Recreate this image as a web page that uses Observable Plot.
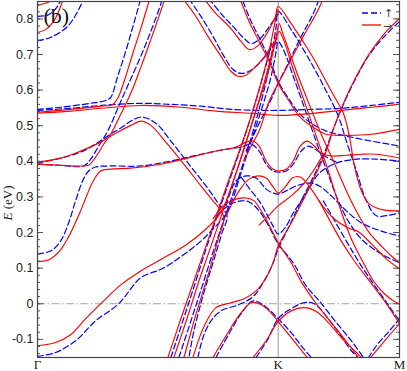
<!DOCTYPE html>
<html><head><meta charset="utf-8">
<script src="https://cdn.jsdelivr.net/npm/d3@7"></script>
<script src="https://cdn.jsdelivr.net/npm/@observablehq/plot@0.6"></script>
<style>
html,body{margin:0;padding:0;background:#fff;}
#wrap{position:relative;width:407px;height:371px;}
#wrap svg{overflow:visible;}
#over{position:absolute;left:0;top:0;pointer-events:none;}
</style></head>
<body><div id="wrap"></div>
<script>
// k-point index along the path Γ(0) → K(240) → M(361); energies in eV
const kTicks = [0, 240, 361];
const kLabels = ["Γ", "K", "M"];
const eTicks = [-0.1, 0, 0.1, 0.2, 0.3, 0.4, 0.5, 0.6, 0.7, 0.8];

// spin "→" bands (red, solid)
const r01 = [[0,.838],[10,.846],[17,.857]];
const r02 = [[0,.762],[8,.770],[16,.793],[21,.821],[26,.857]];
const r03 = [[0,.538],[33,.546],[63,.555],[75,.560],[80,.577],[87,.630],[95,.703],[103,.773],[112,.857]];
const r04 = [[0,.535],[33,.541],[63,.549],[103,.557],[143,.552],[178,.541],[213,.535],[240,.529],[263,.532],[303,.543],[333,.552],[361,.560]];
const r05 = [[0,.392],[23,.389],[43,.387],[51,.389],[58,.412],[66,.448],[73,.476],[83,.532],[93,.591],[103,.664],[113,.742],[120,.798],[127,.857]];
const r06 = [[0,.398],[23,.409],[43,.429],[63,.454],[78,.479],[93,.501],[103,.513],[113,.501],[128,.454],[146,.392],[163,.331],[175,.289],[183,.261],[186,.240],[180,.180],[170,.080],[158,-.030],[146,-.151],[144,-.170]];
const r07 = [[0,.118],[13,.126],[23,.151],[33,.199],[43,.261],[51,.317],[56,.347],[63,.373],[73,.378],[93,.381],[123,.392],[153,.412],[178,.429],[198,.440],[208,.454],[215,.457],[221,.443],[228,.401],[235,.378],[240,.373],[248,.378],[255,.401],[262,.443],[269,.457],[276,.443],[283,.423],[293,.415],[308,.417],[323,.420],[338,.420],[361,.409]];
const r08 = [[0,-.118],[18,-.109],[33,-.087],[48,-.042],[66,.008],[83,.053],[103,.092],[126,.129],[148,.165],[168,.210],[181,.249],[189,.294],[197,.359],[205,.429],[213,.499],[221,.569],[228,.630],[234,.695],[238,.743],[241,.765],[246,.737],[255,.658],[266,.569],[278,.471],[290,.373],[301,.275],[313,.182],[325,.115],[335,.064],[346,.028],[355,.008],[361,0]];
const r09 = [[130,-.151],[143,-.042],[156,.064],[168,.162],[180,.261],[191,.350],[203,.443],[213,.527],[221,.602],[228,.675],[233,.737],[237,.793],[240,.835],[253,.787],[273,.700],[293,.597],[305,.535],[311,.471],[316,.387],[323,.317],[331,.280],[346,.263],[361,.261]];
const r10 = [[136,-.151],[149,-.042],[161,.064],[173,.162],[185,.261],[196,.350],[207,.443],[217,.535],[225,.611],[233,.695],[238,.751],[241,.787],[245,.756],[251,.709],[260,.639],[271,.560],[283,.476],[296,.395],[308,.317],[319,.255],[331,.199],[343,.162],[353,.134],[361,.115]];
const r11 = [[155,-.151],[163,-.084],[170,-.042],[178,-.011],[193,.003],[206,.014],[218,.036],[228,.073],[235,.115],[240,.162],[253,.227],[266,.297],[278,.367],[288,.429],[296,.499],[306,.569],[318,.639],[331,.703],[346,.759],[361,.801]];
const r12 = [[175,.238],[185,.275],[198,.294],[208,.297],[216,.289],[225,.252],[233,.210],[240,.171],[253,.115],[263,.062],[278,0],[293,-.053],[308,-.106],[320,-.151]];
const r13 = [[188,.246],[201,.317],[211,.350],[220,.359],[228,.353],[235,.328],[240,.311],[247,.328],[254,.353],[262,.356],[273,.322],[283,.280],[296,.238],[310,.213],[320,.202],[333,.168],[348,.126],[361,.098]];
const r14 = [[221,.221],[231,.249],[240,.275],[253,.303],[266,.339],[275,.373],[285,.420]];
const r15 = [[203,.849],[211,.793],[221,.737],[231,.681],[240,.619],[251,.569],[261,.527],[273,.499],[288,.476],[308,.473],[333,.476],[361,.490]];
const r16 = [[206,.401],[213,.443],[221,.485],[231,.569],[240,.619],[253,.687],[266,.756],[278,.815],[285,.857]];
const r17 = [[145,.857],[158,.807],[170,.751],[183,.695],[193,.653],[200,.639],[207,.641],[215,.659],[225,.689],[233,.723],[239,.745]];
const r18 = [[166,.857],[178,.815],[191,.779],[203,.737],[211,.714],[219,.723],[228,.756],[235,.793],[240,.826]];
const r19 = [[175,-.151],[188,-.090],[203,-.025],[213,.003],[221,0],[231,-.020],[240,-.050],[253,-.095],[265,-.137],[269,-.151]];
const r20 = [[215,-.151],[228,-.104],[240,-.050],[253,-.020],[266,-.011],[278,-.022],[290,-.053],[303,-.095],[318,-.137],[323,-.151]];
const r21 = [[328,-.165],[338,-.132],[348,-.098],[361,-.056]];
const r22 = [[281,.289],[303,.176],[316,.120],[331,.064],[346,.008],[361,-.056]];

// spin "↑" bands (blue, dashed)
const b01 = [[0,.807],[11,.812],[19,.832],[24,.857]];
const b02 = [[0,.739],[13,.748],[30,.779],[40,.821],[46,.857]];
const b03 = [[0,.546],[23,.552],[53,.563],[68,.571],[73,.580],[80,.639],[88,.709],[96,.787],[103,.857]];
const b04 = [[0,.543],[33,.549],[63,.557],[103,.563],[133,.560],[163,.555],[193,.546],[223,.543],[240,.543],[273,.546],[303,.549],[333,.557],[361,.566]];
const b05 = [[0,.392],[23,.389],[46,.387],[53,.406],[61,.443],[70,.485],[81,.555],[91,.619],[103,.695],[113,.765],[123,.843],[124,.857]];
const b06 = [[0,.395],[43,.426],[78,.485],[103,.524],[118,.507],[133,.457],[151,.392],[168,.331],[180,.283],[189,.246],[184,.199],[175,.115],[165,.022],[156,-.076],[151,-.151]];
const b07 = [[0,.140],[13,.148],[23,.176],[31,.227],[38,.289],[45,.345],[51,.373],[58,.384],[73,.387],[103,.387],[133,.401],[163,.420],[188,.434],[203,.440],[213,.448],[221,.429],[228,.392],[235,.373],[240,.370],[248,.373],[255,.392],[263,.429],[270,.443],[278,.432],[288,.412],[298,.398]];
const b08 = [[0,-.148],[18,-.137],[38,-.104],[58,-.048],[81,0],[103,.073],[126,.101],[161,.171],[175,.210],[186,.244],[194,.289],[202,.359],[210,.429],[218,.499],[226,.569],[233,.639],[238,.709],[240,.737],[246,.709],[255,.639],[265,.560],[276,.471],[288,.378],[300,.289],[311,.227],[323,.182],[335,.154],[348,.132],[361,.115]];
const b09 = [[141,-.151],[153,-.048],[165,.056],[177,.162],[189,.261],[201,.359],[212,.457],[221,.546],[228,.625],[234,.709],[238,.779],[240,.821],[253,.770],[271,.686],[288,.597],[300,.527],[308,.457],[318,.373],[328,.289],[338,.247],[351,.249],[361,.255]];
const b10 = [[160,-.151],[165,-.095],[173,-.048],[183,-.020],[200,-.003],[215,.020],[226,.064],[235,.115],[240,.154],[251,.218],[263,.289],[275,.356],[286,.423],[295,.490],[305,.560],[318,.636],[331,.700],[346,.751],[361,.793]];
const b11 = [[178,.246],[191,.277],[203,.289],[211,.286],[221,.261],[231,.216],[240,.168],[255,.115],[268,.050],[281,.008],[298,-.053],[313,-.104],[325,-.151]];
const b12 = [[188,.275],[198,.345],[208,.359],[218,.353],[228,.322],[235,.311],[240,.308],[248,.317],[258,.331],[271,.339],[281,.331],[293,.303],[308,.261],[323,.227],[343,.204],[361,.190]];
const b13 = [[203,.356],[211,.325],[221,.289],[228,.255],[235,.218],[240,.196],[248,.218],[255,.255],[263,.289],[271,.325],[281,.367],[298,.395],[318,.406],[338,.406],[361,.401]];
const b14 = [[205,.849],[213,.793],[223,.737],[233,.675],[240,.625],[251,.574],[261,.535],[273,.507],[288,.485],[308,.471],[333,.457],[361,.443]];
const b15 = [[208,.429],[215,.471],[223,.518],[233,.574],[240,.619],[251,.681],[263,.751],[275,.815],[281,.857]];
const b16 = [[151,.857],[163,.807],[175,.751],[186,.695],[195,.658],[203,.647],[211,.653],[221,.675],[231,.709],[239,.737]];
const b17 = [[171,.857],[183,.815],[195,.779],[205,.748],[213,.731],[221,.742],[229,.770],[236,.798],[240,.815]];
const b18 = [[178,-.151],[191,-.084],[203,-.028],[215,.008],[225,-.003],[233,-.022],[240,-.042],[253,-.081],[263,-.118],[273,-.151]];
const b19 = [[218,-.151],[230,-.098],[240,-.042],[253,-.014],[266,.003],[276,0],[293,-.053],[313,-.132],[320,-.151]];
const b20 = [[325,-.174],[338,-.118],[351,-.076],[361,-.042]];
const b21 = [[285,.289],[308,.176],[321,.115],[335,.056],[349,0],[361,-.048]];
const b22 = [[133,-.151],[145,-.048],[157,.056],[169,.162],[181,.261],[193,.359],[204,.448],[214,.535],[222,.611],[229,.681],[234,.737]];

const redBands = [r01,r02,r03,r04,r05,r06,r07,r08,r09,r10,r11,r12,r13,r14,r15,r16,r17,r18,r19,r20,r21,r22];
const blueBands = [b01,b02,b03,b04,b05,b06,b07,b08,b09,b10,b11,b12,b13,b14,b15,b16,b17,b18,b19,b20,b21,b22];

const toRows = (bands, tag) => bands.flatMap((b, i) => b.map(([k, E]) => ({k, E, band: tag + i})));
const redRows = toRows(redBands, "r");
const blueRows = toRows(blueBands, "b");

const W = 407, H = 371, mL = 37, mR = 8, mT = 1, mB = 14;
const fw = W - mL - mR;
const minor = d3.range(-14, 85, 2).map(v => v / 100);

const chart = Plot.plot({
  width: W, height: H,
  marginLeft: mL, marginRight: mR, marginTop: mT, marginBottom: mB,
  style: {fontFamily: "Liberation Sans, Arial, sans-serif", fontSize: "12.5px", color: "#222", background: "white"},
  x: {domain: [0, 361], axis: null},
  y: {domain: [-0.151, 0.849], axis: null},
  marks: [
    Plot.ruleX([240], {stroke: "#9a9a9a", strokeWidth: 1}),
    Plot.ruleY([0], {stroke: "#999", strokeWidth: 0.9, strokeDasharray: "8,2.5,1.5,2.5"}),
    Plot.line(blueRows, {x: "k", y: "E", z: "band", stroke: "#0000ff", strokeWidth: 1.2, strokeDasharray: "6,3", curve: "catmull-rom", clip: true}),
    Plot.line(redRows, {x: "k", y: "E", z: "band", stroke: "#ff0000", strokeWidth: 1.15, curve: "catmull-rom", clip: true}),
    // inward ticks, left and right
    Plot.tickY(minor, {y: d => d, stroke: "#555", insetRight: fw - 3}),
    Plot.tickY(eTicks, {y: d => d, stroke: "#555", insetRight: fw - 6}),
    Plot.tickY(minor, {y: d => d, stroke: "#555", insetLeft: fw - 3}),
    Plot.tickY(eTicks, {y: d => d, stroke: "#555", insetLeft: fw - 6}),
    Plot.axisY({ticks: eTicks, tickSize: 0, tickPadding: 4, label: null, tickFormat: d => d === 0 ? "0" : d.toFixed(1)}),
    Plot.axisX({ticks: kTicks, tickSize: 0, tickPadding: 2, label: null, tickFormat: (d, i) => kLabels[i], fontFamily: "Liberation Serif, serif", fontSize: 13}),
    Plot.frame({stroke: "#444", strokeWidth: 1.2}),
    Plot.text(["(b)"], {frameAnchor: "top-left", dx: 6, dy: 6, text: d => d, textAnchor: "start", lineAnchor: "top", fontFamily: "Liberation Serif, serif", fontSize: 22, fill: "#111"})
  ]
});
const wrap = document.getElementById("wrap");
wrap.appendChild(chart);

// overlay: axis title and legend
const ns = "http://www.w3.org/2000/svg";
const over = document.createElementNS(ns, "svg");
over.setAttribute("id", "over"); over.setAttribute("width", W); over.setAttribute("height", H);
over.innerHTML = `
 <text transform="translate(12,203) rotate(-90)" text-anchor="middle" font-family="Liberation Serif, serif" font-size="13" fill="#222"><tspan font-style="italic">E</tspan> (eV)</text>
 <line x1="362" y1="13" x2="381" y2="13" stroke="#0000ff" stroke-width="1.3" stroke-dasharray="6,3"/>
 <text x="384" y="16.5" font-family="DejaVu Sans, sans-serif" font-size="11" fill="#444">↑</text>
 <line x1="362" y1="25" x2="381" y2="25" stroke="#ff0000" stroke-width="1.3"/>
 <text x="383" y="30" font-family="DejaVu Sans, sans-serif" font-size="11" fill="#444">→</text>`;
wrap.appendChild(over);
</script></body></html>
